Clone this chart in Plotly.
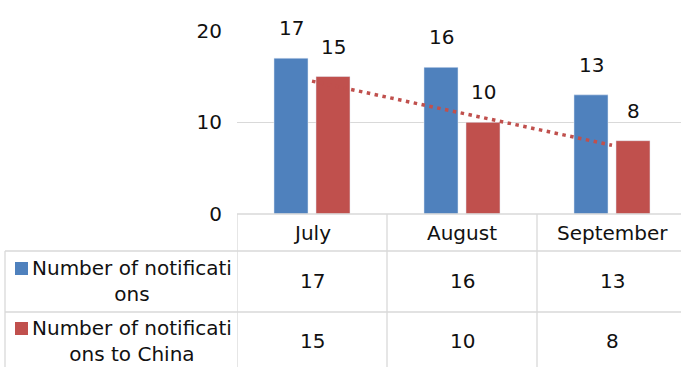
import numpy as np
import plotly.graph_objects as go

categories = ["July", "August", "September"]
series_names = ["Number of notificati<br>ons", "Number of notificati<br>ons to China"]
notifications = [17, 16, 13]
notifications_china = [15, 10, 8]
y_ticks = [0, 10, 20]

W, H = 681, 367
BLUE = "#4F81BD"
RED = "#C0504D"
GRID = "#D9D9D9"
TXT = "#111111"
FONT = "DejaVu Sans"
FS = 20
LEFT = 237

def px(x):
    return x / W

def py(y):
    return 1 - y / H

fig = go.Figure()
fig.add_trace(go.Bar(x=categories, y=notifications, marker_color=BLUE, name="n1"))
fig.add_trace(go.Bar(x=categories, y=notifications_china, marker_color=RED, name="n2"))

# linear trend line of the second series
xi = np.arange(len(notifications_china))
slope, intercept = np.polyfit(xi, notifications_china, 1)
trend = slope * xi + intercept
fig.add_trace(go.Scatter(x=categories, y=trend, mode="lines",
                         line=dict(color=RED, width=3.5, dash="3.5px,4.5px"),
                         hoverinfo="skip"))

ann = []
shapes = []
font = dict(size=FS, color=TXT, family=FONT)
# data labels
for vals, shift in ((notifications, -21), (notifications_china, 21)):
    for c, v in zip(categories, vals):
        ann.append(dict(x=c, y=v, xref="x", yref="y", text=str(v), showarrow=False,
                        xanchor="center", yanchor="middle",
                        xshift=shift, yshift=30, font=font))

# table header: category labels
for c in categories:
    ann.append(dict(x=c, y=py(233), xref="x", yref="paper", text=c, showarrow=False,
                    xanchor="center", yanchor="middle", font=font))

# table rows
row_centers = [281, 341]
for vals, rc, name, col in ((notifications, row_centers[0], series_names[0], BLUE),
                            (notifications_china, row_centers[1], series_names[1], RED)):
    for c, v in zip(categories, vals):
        ann.append(dict(x=c, y=py(rc), xref="x", yref="paper", text=str(v), showarrow=False,
                        xanchor="center", yanchor="middle", font=font))
    ann.append(dict(x=px(132), y=py(rc), xref="paper", yref="paper", text=name,
                    showarrow=False, align="center", xanchor="center", yanchor="middle",
                    font=font))
    top = rc - 19
    shapes.append(dict(type="rect", xref="paper", yref="paper",
                       x0=px(15), x1=px(28), y0=py(top), y1=py(top + 13),
                       fillcolor=col, line=dict(width=0)))

line = dict(color=GRID, width=1.3)
# horizontal table lines
shapes.append(dict(type="line", xref="paper", yref="paper", x0=px(LEFT), x1=1, y0=py(214), y1=py(214), line=line))
for yy in (251, 312):
    shapes.append(dict(type="line", xref="paper", yref="paper", x0=px(5), x1=1, y0=py(yy), y1=py(yy), line=line))
# vertical lines
for xb in (-0.5, 0.5, 1.5):
    shapes.append(dict(type="line", xref="x", yref="paper", x0=xb, x1=xb, y0=0, y1=py(214), line=line))
shapes.append(dict(type="line", xref="paper", yref="paper", x0=px(5), x1=px(5), y0=0, y1=py(251), line=line))

fig.update_layout(
    width=W, height=H, margin=dict(l=0, r=0, t=0, b=0, autoexpand=False),
    paper_bgcolor="white", plot_bgcolor="white",
    showlegend=False, hovermode=False,
    barmode="group", bargap=0.44, bargroupgap=0.19,
    annotations=ann, shapes=shapes,
    font=font,
    xaxis=dict(domain=[px(LEFT), 1], range=[-0.5, 2.5 - 6 / 150], showticklabels=False,
               showgrid=False, zeroline=False, showline=False, fixedrange=True,
               automargin=False),
    yaxis=dict(domain=[py(214), py(30.7)], range=[0, 20], tickvals=y_ticks,
               showgrid=True, gridcolor=GRID, gridwidth=1.3, zeroline=False, showline=False,
               ticks="", ticklabelstandoff=14, automargin=False,
               tickfont=font),
)

fig.write_html("out.html")
